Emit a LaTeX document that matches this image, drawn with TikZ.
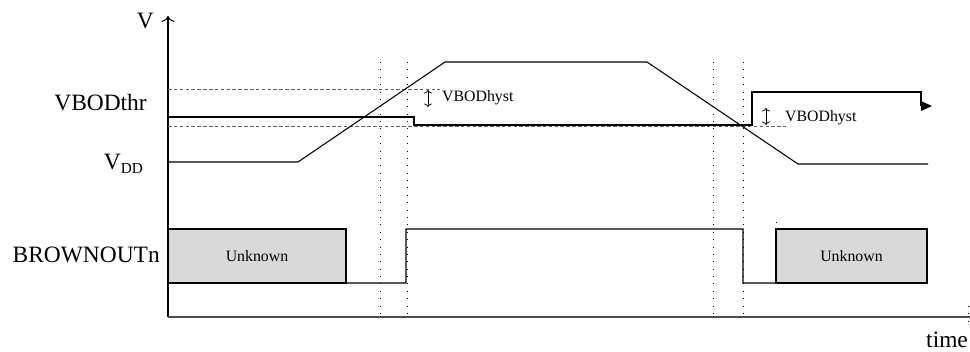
\documentclass[tikz,border=0pt]{standalone}
\usepackage{fontspec}
\setmainfont{Liberation Serif}
\usetikzlibrary{arrows.meta,positioning}

\begin{document}
\begin{tikzpicture}[x=0.03cm, y=-0.03cm,
  lbl/.style={font=\fontsize{20}{22}\selectfont, anchor=east, inner sep=0pt},
  tiny/.style={font=\fontsize{13.5}{15}\selectfont, anchor=west, inner sep=0pt},
  sig/.style={line width=0.9pt},
  thrline/.style={gray!75!black, line width=0.7pt, dash pattern=on 3pt off 2pt},
  marker/.style={line width=0.8pt, dash pattern=on 0.8pt off 5.5pt},
  hyst/.style={line width=0.6pt, {To[length=3pt,width=7pt]}-{To[length=3pt,width=7pt]}},
  unk/.style={draw, line width=0.9pt, fill=gray!30, inner sep=0pt, outer sep=0pt,
    minimum height=1.62cm, font=\fontsize{13.5}{15}\selectfont}]

  \useasboundingbox (0,0) rectangle (970,351);

  % axes
  \coordinate (org) at (168,317);
  \coordinate (vtop) at (168,16);
  \coordinate (tend) at (970,317);
  \draw[sig, -{To[length=5pt,width=11pt]}] (org) -- (vtop);
  \draw[line width=1.2pt, gray!60!black] (org) -- (tend);

  % labels
  \node[lbl] (vlab) at (154,21) {V};
  \node[lbl] (thrlab) at (147,103) {VBODthr};
  \node[lbl] (vddlab) at (143,164) {V\raisebox{-0.35ex}{\fontsize{13}{13}\selectfont DD}};
  \node[lbl] (bolab) at (160,255) {BROWNOUTn};
  \node[anchor=base west, inner sep=0pt, font=\fontsize{20}{22}\selectfont] (tlab) at (926,347) {time};

  % threshold levels
  \draw[thrline] (168,89) -- (440,89);
  \draw[thrline] (168,126) -- (786,126);

  % markers
  \foreach \mx in {380,407,713,743}
    \draw[marker] (\mx,62) -- (\mx,317);
  \draw[marker] (776,222) -- (776,283);
  \draw[marker] (968,306) -- (968,322);

  % supply voltage
  \draw[sig] (168,162) -- (298,162) -- (445,62) -- (647,62) -- (798,164) -- (928,164);

  % detector threshold with hysteresis
  \draw[sig] (168,117) -- (414,117) -- (414,125) -- (752,125) -- (752,92) -- (921,92) -- (921,106);
  \fill (921,101) -- (932,106) -- (921,111) -- cycle;

  \draw[hyst] (428,90) -- (428,107);
  \node[tiny] (hyst1) at (442,98) {VBODhyst};
  \draw[hyst] (766,108) -- (766,125);
  \node[tiny] (hyst2) at (785,118) {VBODhyst};

  % brownout output
  \node[unk, minimum width=5.34cm] (unk1) at (257,256) {Unknown};
  \node[unk, minimum width=4.53cm] (unk2) at (851.5,256) {Unknown};
  \draw[sig] (unk1.south east) -- (406,283) -- (406,229) -- (743,229) -- (743,283) -- (unk2.south west);
\end{tikzpicture}
\end{document}
